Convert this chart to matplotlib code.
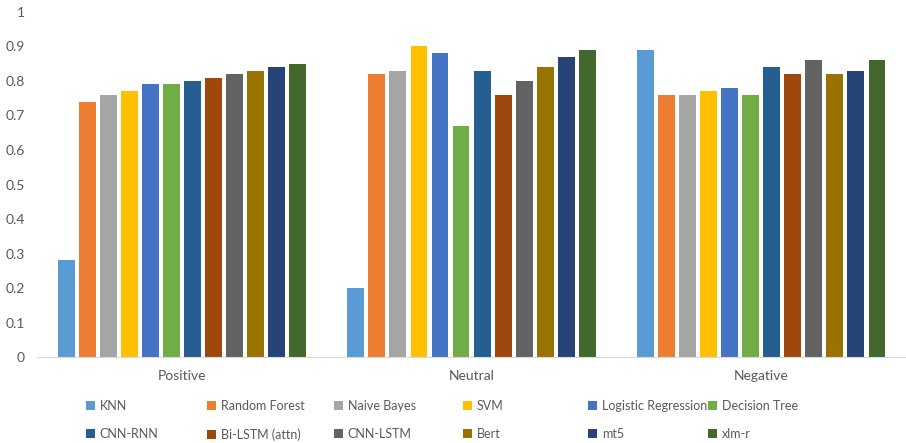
import matplotlib.pyplot as plt
import numpy as np

plt.rcParams['font.family'] = ['Lato', 'DejaVu Sans']

categories = ["Positive", "Neutral", "Negative"]
models = ["KNN", "Random Forest", "Naive Bayes", "SVM", "Logistic Regression",
          "Decision Tree", "CNN-RNN", "Bi-LSTM (attn)", "CNN-LSTM", "Bert", "mt5", "xlm-r"]

knn = [0.28, 0.20, 0.89]
random_forest = [0.74, 0.82, 0.76]
naive_bayes = [0.76, 0.83, 0.76]
svm = [0.77, 0.90, 0.77]
logistic_regression = [0.79, 0.88, 0.78]
decision_tree = [0.79, 0.67, 0.76]
cnn_rnn = [0.80, 0.83, 0.84]
bi_lstm = [0.81, 0.76, 0.82]
cnn_lstm = [0.82, 0.80, 0.86]
bert = [0.83, 0.84, 0.82]
mt5 = [0.84, 0.87, 0.83]
xlm_r = [0.85, 0.89, 0.86]

series = [knn, random_forest, naive_bayes, svm, logistic_regression, decision_tree,
          cnn_rnn, bi_lstm, cnn_lstm, bert, mt5, xlm_r]
colors = ["#5B9BD5", "#ED7D31", "#A5A5A5", "#FFC000", "#4472C4", "#70AD47",
          "#255E91", "#9E480E", "#636363", "#997300", "#264478", "#43682B"]

fig = plt.figure(figsize=(9.06, 4.43), dpi=100)
ax = fig.add_axes([0.041, 0.194, 0.959, 0.779])

x = np.arange(len(categories))
slot = 0.872 / len(series)
bars = []
for i, (vals, c) in enumerate(zip(series, colors)):
    offs = (i - (len(series) - 1) / 2) * slot
    bars.append(ax.bar(x + offs, vals, width=slot * 0.8, color=c, label=models[i]))

ax.set_xlim(-0.5, 2.5)
ax.set_ylim(0, 1)
ax.set_yticks(np.arange(0, 1.01, 0.1))
ax.set_yticklabels(["0"] + [f"{v:.1f}" for v in np.arange(0.1, 0.95, 0.1)] + ["1"])
ax.set_xticks(x)
ax.set_xticklabels(categories)
ax.tick_params(axis='both', length=0, labelsize=10, colors="#595959")
ax.tick_params(axis='x', pad=9)
ax.tick_params(axis='y', pad=9)
for s in ["top", "right", "left"]:
    ax.spines[s].set_visible(False)
ax.spines["bottom"].set_color("#D9D9D9")

# Excel-style legend: six fixed columns, two rows, filled row by row
col_x = [86, 207, 334, 463, 588, 708]
for j, cx in enumerate(col_x):
    hs = [bars[j], bars[j + 6]]
    labs = [models[j], models[j + 6]]
    fig.legend(hs, labs, loc="upper left", bbox_to_anchor=(cx / 906, 1 - 400 / 443),
               frameon=False, fontsize=9, labelcolor="#595959",
               handlelength=0.75, handleheight=0.75, handletextpad=0.35,
               labelspacing=1.3, borderpad=0, borderaxespad=0)

fig.savefig("out.png", dpi=100)
